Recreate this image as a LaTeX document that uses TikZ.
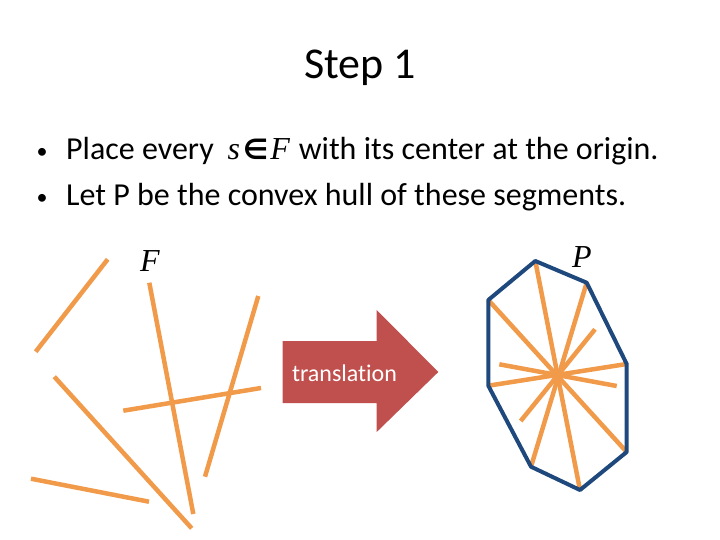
\documentclass[tikz,border=0pt]{standalone}
\usepackage{fontspec}
\setmainfont{Carlito}[Ligatures=NoCommon]
\newfontfamily\varit{Liberation Serif}[UprightFont=* Italic]
\newfontfamily\symfont{DejaVu Sans}
\definecolor{segor}{HTML}{F09A4A}
\definecolor{hullblue}{HTML}{1F497D}
\definecolor{arrred}{HTML}{C0504D}
\begin{document}
\begin{tikzpicture}[x=1pt,y=-1pt,
  seg/.style={segor,line width=4.5pt},
  hull/.style={hullblue,line width=4pt,line join=round},
  txt/.style={inner sep=0pt,anchor=base west},
  bul/.style={inner sep=0pt,anchor=base}]
\useasboundingbox (0,0) rectangle (720,540);
% title
\node[inner sep=0pt] (title) at (360,68) {\fontsize{44}{52}\selectfont Step 1};
% bullets
\node[bul] (b1) at (42,159) {\fontsize{22}{26}\selectfont •};
\node[bul] (b2) at (42,205) {\fontsize{22}{26}\selectfont •};
\node[txt] (l1) at (66,160) {\fontsize{32}{38}\selectfont Place every\hspace{14pt}{\varit s}\hspace{3pt}{\symfont\bfseries\fontsize{28}{30}\selectfont ∈}\hspace{2pt}{\varit F}\hspace{9pt}with its center at the origin.};
\node[txt] (l2) at (66,206) {\fontsize{32}{38}\selectfont Let P be the convex hull of these segments.};
% labels
\node[inner sep=0pt] (Flab) at (150,261) {\fontsize{32}{38}\selectfont\varit F};
\node[inner sep=0pt] (Plab) at (582,257) {\fontsize{32}{38}\selectfont\varit P};
% left segments
\draw[seg] (107.7,259.3) -- (35.7,351.7);
\draw[seg] (149.3,282.7) -- (193.3,514);
\draw[seg] (258.3,296) -- (205,476.7);
\draw[seg] (123.3,410.7) -- (261,388);
\draw[seg] (54.3,376.7) -- (191.7,528.3);
\draw[seg] (31,478.7) -- (149,501.7);
% arrow
\fill[arrred] (282.7,341) -- (376.7,341) -- (376.7,310) -- (438.3,372) -- (376.7,432) -- (376.7,403) -- (282.7,403) -- cycle;
\node[inner sep=0pt,text=white] (trans) at (344.5,373) {\fontsize{24}{28}\selectfont translation};
% right: centered segments
\coordinate (C) at (557.3,376.7);
\coordinate (p1) at (535.3,261);
\coordinate (p2) at (586.7,282.7);
\coordinate (p3) at (626.7,364);
\coordinate (p4) at (626.7,452);
\coordinate (p5) at (580,490);
\coordinate (p6) at (531,466.7);
\coordinate (p7) at (488.3,385.7);
\coordinate (p8) at (488.3,300);
\draw[seg] (p1) -- (p5);
\draw[seg] (p2) -- (p6);
\draw[seg] (p3) -- (p7);
\draw[seg] (p8) -- (p4);
\draw[seg] (595,329.3) -- (520.7,421);
\draw[seg] (499.3,364.3) -- (616.7,386);
\fill[segor] (C) circle (5pt);
\draw[hull] (p1) -- (p2) -- (p3) -- (p4) -- (p5) -- (p6) -- (p7) -- (p8) -- cycle;
\end{tikzpicture}
\end{document}
